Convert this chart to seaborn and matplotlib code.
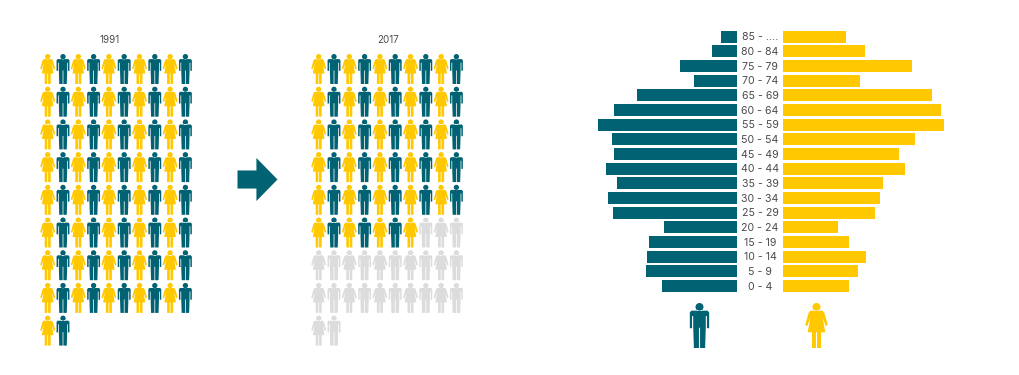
"""Population pictograms for 1991 and 2017 next to an age pyramid by sex."""
import numpy as np
import pandas as pd
import matplotlib
matplotlib.use("Agg")
import matplotlib.pyplot as plt
from matplotlib.path import Path
import seaborn as sns

TEAL = "#006272"
YELLOW = "#FFC800"
GREY = "#DCDCDC"
TEXT = "#4A4A4A"

W, H = 1020, 375

ages = ["85 - ....", "80 - 84", "75 - 79", "70 - 74", "65 - 69", "60 - 64",
        "55 - 59", "50 - 54", "45 - 49", "40 - 44", "35 - 39", "30 - 34",
        "25 - 29", "20 - 24", "15 - 19", "10 - 14", "5 - 9", "0 - 4"]
# bar lengths in pixels
male = [15.7, 25, 56.7, 42.3, 99.7, 122.7, 138.3, 124.3, 122.7,
        130.7, 120, 128.7, 123.3, 72.3, 87.3, 89.7, 90.7, 74.7]
female = [62.3, 81.7, 128.7, 76.7, 148.7, 158, 160.7, 131.3, 115.3,
          121.3, 99.3, 96.3, 92, 54.7, 65.3, 82.3, 74.7, 66]

years = ["1991", "2017"]
icons_total = [82, 82]
icons_coloured = [82, 57]


def poly(points):
    return Path(list(points) + [points[0]], closed=True)


def head():
    return Path(Path.unit_circle().vertices * 0.178 + [0, 0.822],
                Path.unit_circle().codes)


def man_path():
    body = poly([(-0.36, 0.66), (0.36, 0.66), (0.43, 0.58), (0.43, -0.12), (0.33, -0.12),
                 (0.33, 0.42), (0.28, 0.42), (0.28, -0.05), (0.25, -1), (0.025, -1),
                 (0.025, -0.1), (-0.025, -0.1), (-0.025, -1), (-0.25, -1), (-0.28, -0.05),
                 (-0.28, 0.42), (-0.33, 0.42), (-0.33, -0.12), (-0.43, -0.12),
                 (-0.43, 0.58)])
    return Path.make_compound_path(head(), body)


def woman_path():
    body = poly([(-0.27, 0.66), (0.27, 0.66), (0.35, 0.56), (0.5, 0.03), (0.41, -0.03),
                 (0.27, 0.36), (0.39, -0.3), (0.2, -0.3), (0.2, -1), (0.025, -1),
                 (0.025, -0.3), (-0.025, -0.3), (-0.025, -1), (-0.2, -1), (-0.2, -0.3),
                 (-0.39, -0.3), (-0.27, 0.36), (-0.41, -0.03), (-0.5, 0.03), (-0.35, 0.56)])
    return Path.make_compound_path(head(), body)


def arrow_path():
    return poly([(-0.93, 0.42), (-0.05, 0.42), (-0.05, 1), (0.93, 0), (-0.05, -1),
                 (-0.05, -0.42), (-0.93, -0.42)])


def px_size(px):
    # custom markers span sqrt(s) points from -1 to 1
    return (px * 72 / 100) ** 2


def pictogram(ax, x0, total, coloured):
    idx = np.arange(total)
    sex = np.where(idx % 2 == 0, "f", "m")
    tone = np.where(idx >= coloured, "none", sex)
    df = pd.DataFrame({"x": x0 + (idx % 10) * 15.3, "y": 69 + (idx // 10) * 32.7,
                       "sex": sex, "tone": tone})
    sns.scatterplot(data=df, x="x", y="y", hue="tone", style="sex",
                    palette={"f": YELLOW, "m": TEAL, "none": GREY},
                    markers={"f": woman_path(), "m": man_path()},
                    s=px_size(30), linewidth=0, legend=False, ax=ax)


fig = plt.figure(figsize=(W / 100, H / 100), dpi=100)
plt.rcParams["font.family"] = ["Inter", "DejaVu Sans"]

canvas = fig.add_axes([0, 0, 1, 1])

for year, total, coloured, x0, xt in zip(years, icons_total, icons_coloured,
                                         [47.7, 318.7], [110, 388]):
    pictogram(canvas, x0, total, coloured)
    canvas.text(xt, 40, year, ha="center", va="center", fontsize=7, color=TEXT)

canvas.scatter([257], [178.5], marker=arrow_path(), s=px_size(43), color=TEAL, linewidth=0)

# big legend figures under the pyramid
sns.scatterplot(x=[699.3], y=[325], marker=man_path(), color=TEAL,
                s=px_size(45), linewidth=0, ax=canvas)
sns.scatterplot(x=[816.3], y=[325], marker=woman_path(), color=YELLOW,
                s=px_size(45), linewidth=0, ax=canvas)

for i, age in enumerate(ages):
    canvas.text(760, 37.3 + i * 14.66, age, ha="center", va="center",
                fontsize=7.6, color=TEXT)

canvas.set_xlim(0, W)
canvas.set_ylim(H, 0)
canvas.axis("off")

# pyramid: one axes per side, one data unit = one pixel
top, bottom = 29.37, 293.3
left_ax = fig.add_axes([590 / W, 1 - bottom / H, 146.7 / W, (bottom - top) / H])
right_ax = fig.add_axes([783.3 / W, 1 - bottom / H, 176.7 / W, (bottom - top) / H])

sns.barplot(x=male, y=ages, orient="h", color=TEAL, saturation=1, width=0.82, ax=left_ax)
sns.barplot(x=female, y=ages, orient="h", color=YELLOW, saturation=1, width=0.82, ax=right_ax)

left_ax.set_xlim(146.7, 0)
right_ax.set_xlim(0, 176.7)
for ax in (left_ax, right_ax):
    ax.set_ylim(17.5, -0.5)
    ax.axis("off")

fig.savefig("out.png", dpi=100)
